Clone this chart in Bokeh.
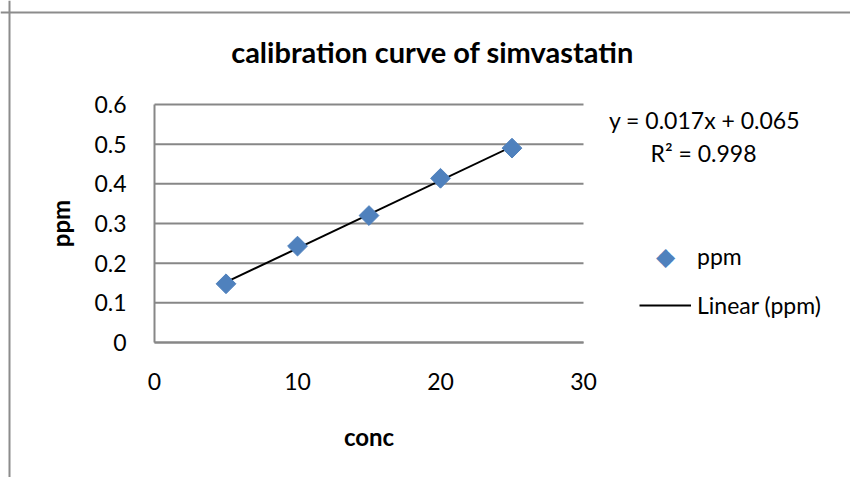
import numpy as np
from bokeh.plotting import figure
from bokeh.models import (Label, Legend, LegendItem, Range1d, FixedTicker,
                          LinearAxis, Span)
from bokeh.embed import file_html
from bokeh.resources import INLINE

conc = [5, 10, 15, 20, 25]
ppm = [0.148, 0.243, 0.320, 0.414, 0.490]
x_ticks = [0, 10, 20, 30]
y_ticks = [0, 0.1, 0.2, 0.3, 0.4, 0.5, 0.6]
title_text = "calibration curve of simvastatin"
eq_text = "y = 0.017x + 0.065"
r2_text = "R² = 0.998"
series_name = "ppm"
trend_name = "Linear (ppm)"

FONT = "Lato"
GRID = "#878787"
BLUE = "#4f81bd"
W, H = 850, 477

slope, intercept = np.polyfit(conc, ppm, 1)
fit_x = [min(conc), max(conc)]
fit_y = [slope * v + intercept for v in fit_x]

# frame covers the whole canvas; plot area drawn at its place via bounded axes
px_x = 14.3      # pixels per x unit
px_y = 396.667   # pixels per y unit
x0_px, y0_px = 154, 342


def sx(px):
    return (px - x0_px) / px_x


def sy(py):
    return (y0_px - py) / px_y


p = figure(width=W, height=H, output_backend="svg", toolbar_location=None,
           x_range=Range1d(sx(0), sx(W)), y_range=Range1d(sy(H), sy(0)),
           x_axis_location=None, y_axis_location=None, min_border=0)
p.outline_line_color = None
p.background_fill_color = "white"
p.border_fill_color = "white"
p.xgrid.visible = False
p.ygrid.visible = False

# outer chart border (left and top edges visible)
p.add_layout(Span(location=sx(9), dimension="height",
                  line_color="#8c8c8c", line_width=2))
p.add_layout(Span(location=sy(12), dimension="width",
                  line_color="#8c8c8c", line_width=2))

# horizontal gridlines from tick values
p.segment(x0=[x_ticks[0]] * len(y_ticks), x1=[x_ticks[-1]] * len(y_ticks),
          y0=y_ticks, y1=y_ticks, line_color=GRID, line_width=2)

xaxis = LinearAxis(fixed_location=0, bounds=(x_ticks[0], x_ticks[-1]),
                   ticker=FixedTicker(ticks=x_ticks), axis_label="conc")
yaxis = LinearAxis(fixed_location=0, bounds=(y_ticks[0], y_ticks[-1]),
                   ticker=FixedTicker(ticks=y_ticks), axis_label="ppm")
yaxis.major_label_overrides = {0: "0"}
for ax in (xaxis, yaxis):
    ax.axis_line_color = GRID
    ax.axis_line_width = 2
    ax.major_tick_line_color = None
    ax.minor_tick_line_color = None
    ax.major_tick_out = 0
    ax.major_tick_in = 0
    ax.minor_tick_out = 0
    ax.minor_tick_in = 0
    ax.major_label_text_font = FONT
    ax.major_label_text_font_size = "23px"
    ax.major_label_text_color = "black"
    ax.axis_label_text_font = FONT
    ax.axis_label_text_font_size = "24px"
    ax.axis_label_text_font_style = "bold"
    ax.axis_label_text_color = "black"
xaxis.major_label_standoff = 30
xaxis.axis_label_standoff = 29
yaxis.major_label_standoff = 28
yaxis.axis_label_standoff = 16
p.add_layout(xaxis, "below")
p.add_layout(yaxis, "left")

line_r = p.line(fit_x, fit_y, line_color="black", line_width=2)
pts = p.scatter(conc, ppm, marker="square", size=14, angle=np.pi / 4,
                fill_color=BLUE, line_color=BLUE)
# legend key for the series is drawn as a diamond character below
key_r = p.scatter(conc, ppm, marker="square", size=1, alpha=0)

legend = Legend(items=[LegendItem(label=series_name, renderers=[key_r]),
                       LegendItem(label=trend_name, renderers=[line_r])],
                location=(639, 158), orientation="vertical",
                glyph_width=52, glyph_height=28, spacing=21, label_standoff=6,
                padding=0, margin=0, border_line_color=None,
                background_fill_alpha=0, label_text_font=FONT,
                label_text_font_size="23px", label_text_color="black",
                label_height=28)
p.add_layout(legend, "center")

p.add_layout(Label(x=sx(665), y=sy(256), text="◆", text_align="center",
                   text_baseline="middle", text_font="DejaVu Sans",
                   text_font_size="25px", text_color=BLUE))

p.add_layout(Label(x=sx(432), y=sy(51), text=title_text,
                   text_align="center", text_baseline="alphabetic",
                   text_font=FONT, text_font_size="29px",
                   text_font_style="bold", text_color="black"))
p.add_layout(Label(x=sx(704), y=sy(119), text=eq_text,
                   text_align="center", text_baseline="alphabetic",
                   text_font=FONT, text_font_size="23px",
                   text_color="black"))
p.add_layout(Label(x=sx(703), y=sy(152.5), text=r2_text,
                   text_align="center", text_baseline="alphabetic",
                   text_font=FONT, text_font_size="23px",
                   text_color="black"))

open("out.html", "w").write(file_html(p, INLINE))
